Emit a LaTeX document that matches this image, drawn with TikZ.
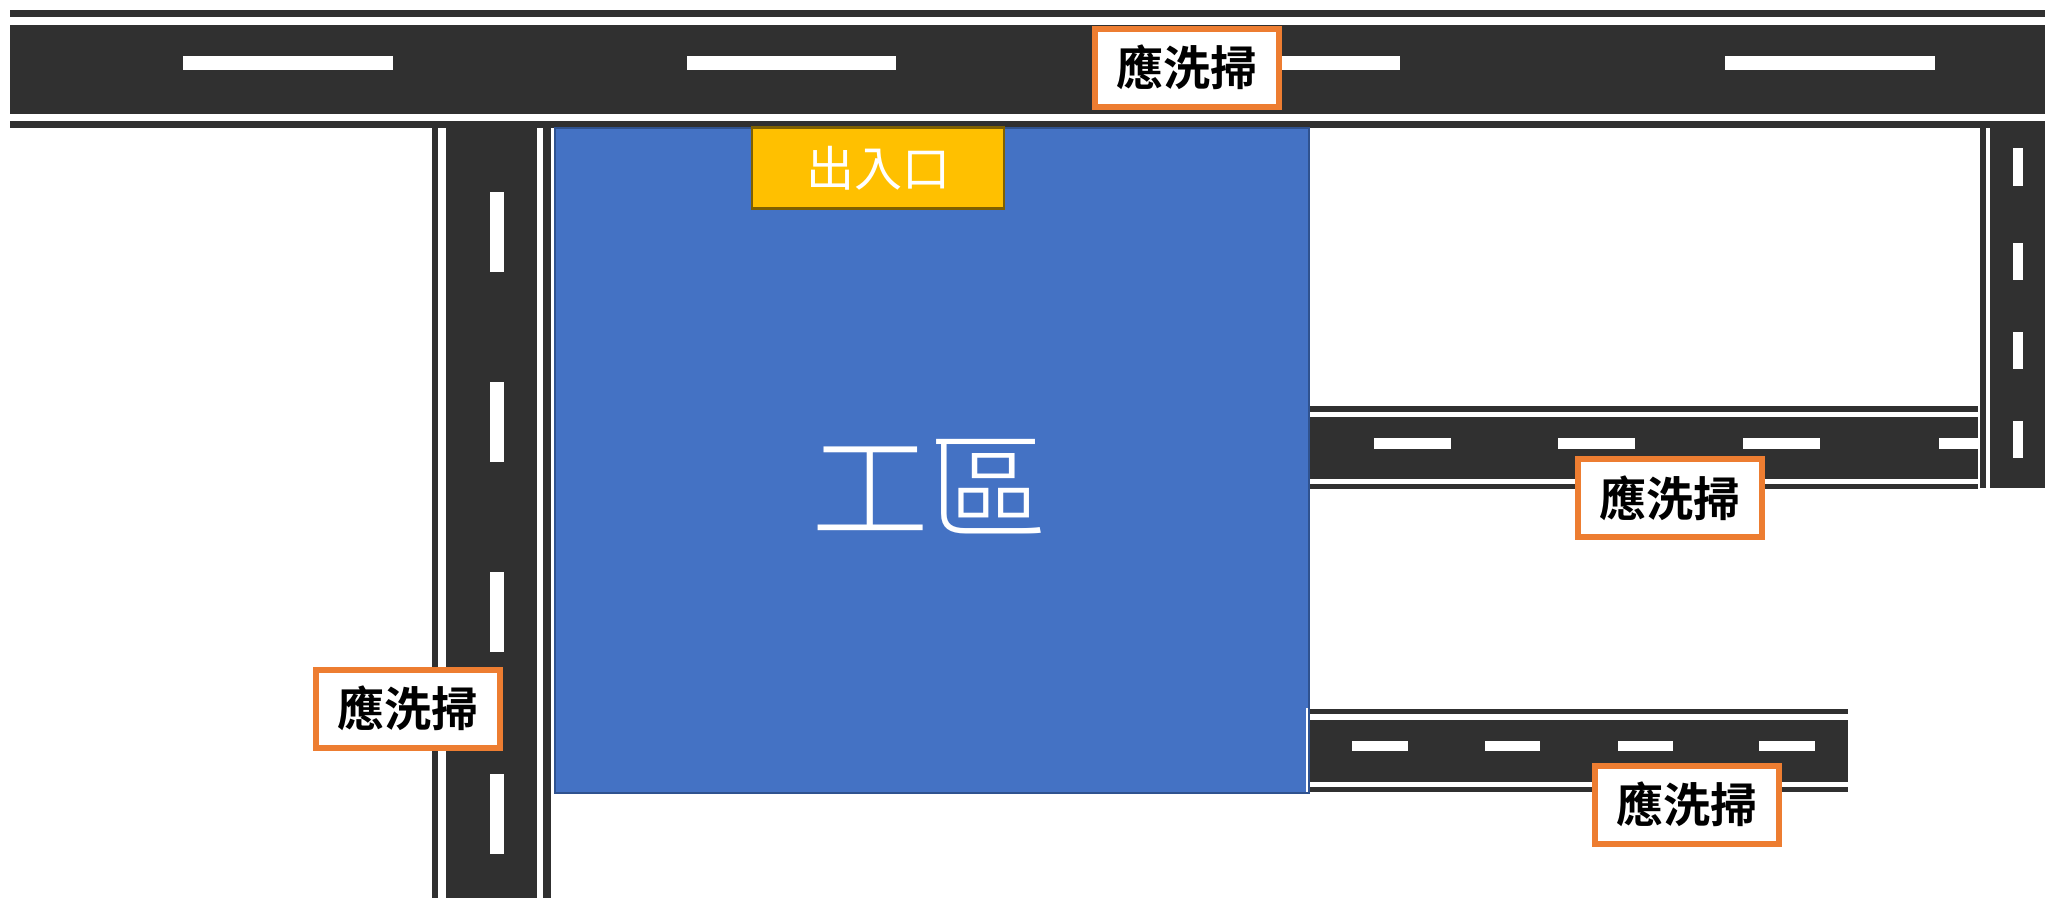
\documentclass[tikz,border=0pt]{standalone}
\usepackage{fontspec}
\setmainfont{Liberation Sans}
\newfontfamily\cjkmed{Noto Sans CJK TC}[BoldFont={* Bold}]
\newfontfamily\cjkreg{Noto Sans CJK TC}
\newfontfamily\cjklight{Noto Sans CJK TC Light}
\definecolor{asphalt}{HTML}{303030}
\definecolor{sitefill}{HTML}{4472C4}
\definecolor{siteedge}{HTML}{2F528F}
\definecolor{gatefill}{HTML}{FFC000}
\definecolor{gateedge}{HTML}{7F6000}
\definecolor{tagedge}{HTML}{ED7D31}
\tikzset{
  asphaltfill/.style={fill=asphalt,draw=none},
  paint/.style={fill=white,draw=none},
  sweeptag/.style={draw=tagedge,fill=white,line width=6pt,inner sep=0pt,
    minimum width=184pt,minimum height=78pt,
    font=\cjkmed\bfseries\fontsize{47}{47}\selectfont,text=black},
}
\begin{document}
\begin{tikzpicture}[x=1pt,y=-1pt]
\useasboundingbox[fill=white] (0,0) rectangle (2045,898);
% left vertical road
\fill[asphaltfill] (432,127) rectangle (551,898);
\fill[paint] (438,127) rectangle (446,898);
\fill[paint] (537,127) rectangle (543,898);
\fill[paint] (551,127) rectangle (554,898);
\foreach \a/\b in {192/272,382/462,572/652,774/854}
  \fill[paint] (490,\a) rectangle (504,\b);
% right vertical road
\fill[asphaltfill] (1980,126) rectangle (2045,488);
\fill[paint] (1985.5,126) rectangle (1990,488);
\foreach \a/\b in {148/186,243/280,332/369,421/458}
  \fill[paint] (2012.6,\a) rectangle (2023,\b);
% top road
\fill[asphaltfill] (10,10) rectangle (2045,128);
\fill[paint] (8,17) rectangle (2045,25);
\fill[paint] (8,114) rectangle (2045,121);
\foreach \a/\b in {183/393,687/896,1200/1400,1725/1935}
  \fill[paint] (\a,56) rectangle (\b,70);
% middle road
\fill[asphaltfill] (1310,406) rectangle (1978,489);
\fill[paint] (1310,412) rectangle (1978,417);
\fill[paint] (1310,479) rectangle (1978,484);
\foreach \a/\b in {1374/1451,1558/1635,1743/1820,1939/1978}
  \fill[paint] (\a,438) rectangle (\b,449);
% lower road
\fill[asphaltfill] (1307,709) rectangle (1848,792);
\fill[paint] (1307,714) rectangle (1848,720);
\fill[paint] (1307,782) rectangle (1848,787);
\foreach \a/\b in {1352/1408,1485/1540,1618/1673,1759/1815}
  \fill[paint] (\a,741) rectangle (\b,751);
% site
\node[draw=siteedge,fill=sitefill,line width=2pt,inner sep=0pt,
  minimum width=754pt,minimum height=665pt] (site) at (931.5,460) {};
\node[text=white,inner sep=0pt,font=\cjklight\fontsize{118}{118}\selectfont] (sitelabel) at (929,487) {工區};
\fill[paint] (1306,708) rectangle (1307.5,792);
% gate
\node[draw=gateedge,fill=gatefill,line width=2.5pt,inner sep=0pt,
  minimum width=252pt,minimum height=81pt,
  text=white,font=\cjkreg\fontsize{48}{48}\selectfont] (gate) at (878,168) {出入口};
% tags
\node[sweeptag] (tagtop) at (1186.5,67.5) {應洗掃};
\node[sweeptag] (tagmid) at (1670,498) {應洗掃};
\node[sweeptag] (taglow) at (1686.5,804.5) {應洗掃};
\node[sweeptag] (tagleft) at (408,708.5) {應洗掃};
\end{tikzpicture}
\end{document}
